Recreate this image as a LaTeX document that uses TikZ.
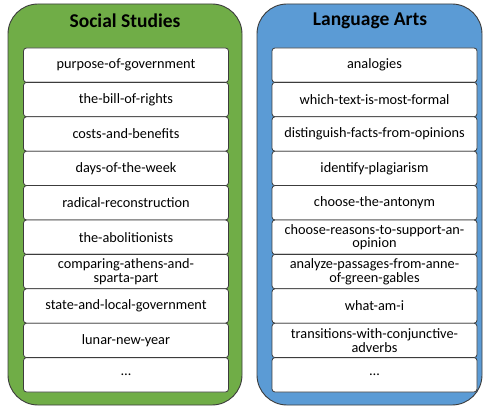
\documentclass[tikz,border=0pt]{standalone}
\usepackage{fontspec}
\setmainfont{Carlito}
\usetikzlibrary{positioning}
\definecolor{ssgreen}{RGB}{112,173,71}
\definecolor{lablue}{RGB}{91,155,213}
\definecolor{edgegray}{RGB}{60,60,60}

\begin{document}
\begin{tikzpicture}[x=1pt, y=-1pt,
    subject/.style={draw=edgegray, line width=0.9pt, rounded corners=30pt},
    heading/.style={font=\fontsize{19.5}{21}\selectfont\bfseries},
    topic/.style={draw=edgegray, fill=white, line width=0.8pt, rounded corners=3pt,
        minimum width=205pt, minimum height=34.4pt, inner sep=0pt,
        align=center, font=\fontsize{14.3}{13.5}\selectfont}]
    \useasboundingbox (0,0) rectangle (488,409);

    % Social Studies
    \draw[subject, fill=ssgreen] (8,4) rectangle (242,405);
    \node[heading] (ss) at (125,21) {Social Studies};
    \foreach \t [count=\i] in {purpose-of-government, the-bill-of-rights,
        costs-and-benefits, days-of-the-week, radical-reconstruction,
        the-abolitionists, {comparing-athens-and-\\sparta-part},
        state-and-local-government, lunar-new-year, {\ldots}}
        \node[topic] (ss\i) at (126, 30.8+34.4*\i) {\t};

    % Language Arts
    \draw[subject, fill=lablue] (257,4) rectangle (482,405);
    \node[heading] (la) at (370,21) {Language Arts};
    \foreach \t [count=\i] in {analogies, which-text-is-most-formal,
        distinguish-facts-from-opinions, identify-plagiarism,
        choose-the-antonym, {choose-reasons-to-support-an-\\opinion},
        {analyze-passages-from-anne-\\of-green-gables}, what-am-i,
        {transitions-with-conjunctive-\\adverbs}, {\ldots}}
        \node[topic] (la\i) at (374.5, 30.8+34.4*\i) {\t};
\end{tikzpicture}
\end{document}
